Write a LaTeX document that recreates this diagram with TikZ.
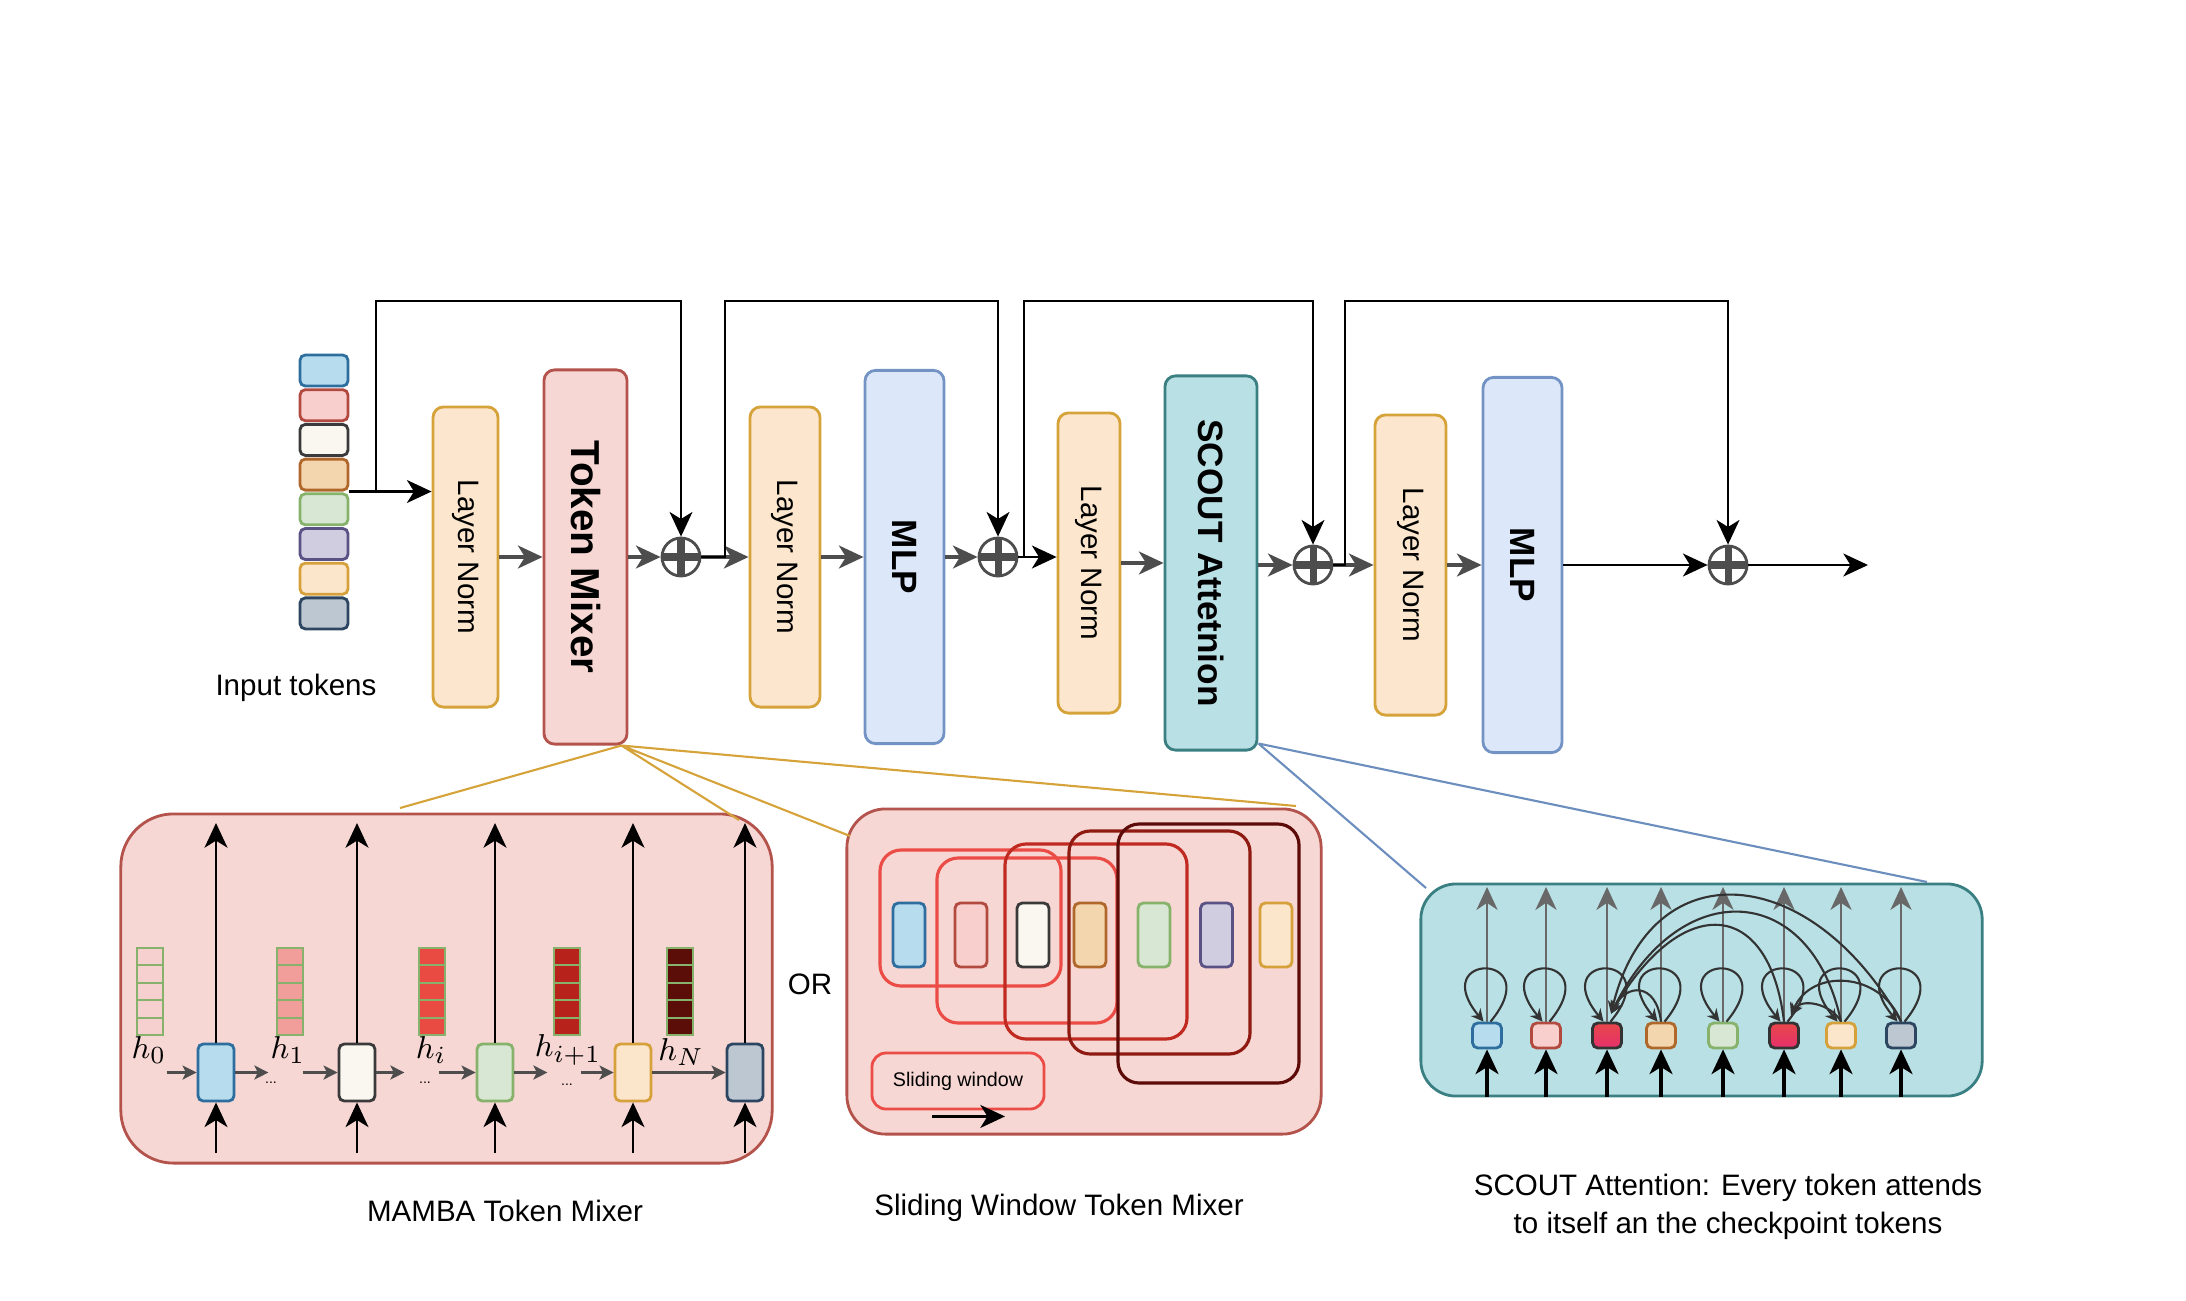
\documentclass[tikz,border=0pt]{standalone}
\usepackage{fontspec}
\setmainfont{Liberation Sans}
\usepackage{graphicx}
\usepackage{tikz}
\usetikzlibrary{arrows.meta}

\definecolor{lnfill}{HTML}{FCE6CD}
\definecolor{lnline}{HTML}{D6A33A}
\definecolor{mixfill}{HTML}{F6D7D4}
\definecolor{mixline}{HTML}{B3534C}
\definecolor{mlpfill}{HTML}{DCE8FA}
\definecolor{mlpline}{HTML}{7393C4}
\definecolor{attfill}{HTML}{B9E0E5}
\definecolor{attline}{HTML}{3A7F82}
\definecolor{flow}{HTML}{4D4D4D}
\definecolor{thin}{HTML}{686868}
\definecolor{arc}{HTML}{333333}
\definecolor{goldln}{HTML}{D6A33A}
\definecolor{blueln}{HTML}{6C8EBF}
\definecolor{fblue}{HTML}{B6DCEE}\definecolor{dblue}{HTML}{2E6E9E}
\definecolor{fpink}{HTML}{F8CFCC}\definecolor{dpink}{HTML}{B34A40}
\definecolor{fivory}{HTML}{F9F7F0}\definecolor{divory}{HTML}{3A3A3A}
\definecolor{forange}{HTML}{F3D6AE}\definecolor{dorange}{HTML}{B0672A}
\definecolor{fgreen}{HTML}{D7E7D3}\definecolor{dgreen}{HTML}{86B26C}
\definecolor{fpurple}{HTML}{D1CDE1}\definecolor{dpurple}{HTML}{5A5184}
\definecolor{fcream}{HTML}{FBE6CC}\definecolor{dcream}{HTML}{D6A03A}
\definecolor{fslate}{HTML}{BCC7D2}\definecolor{dslate}{HTML}{2C4560}
\definecolor{hA}{HTML}{F6CFCF}
\definecolor{hB}{HTML}{F19E9A}
\definecolor{hC}{HTML}{E94A42}
\definecolor{hD}{HTML}{B7221A}
\definecolor{hE}{HTML}{5B0D08}
\definecolor{winA}{HTML}{EC4C46}
\definecolor{winB}{HTML}{C02A20}
\definecolor{winC}{HTML}{8F1A12}
\definecolor{winD}{HTML}{5C0B08}
\definecolor{ckA}{HTML}{E8474A}
\definecolor{ckB}{HTML}{E5306C}

\begin{document}
\begin{tikzpicture}[x=0.01cm,y=-0.01cm,
  every node/.style={font=\fontsize{8.4}{9.4}\selectfont},
  tip/.style={-{Stealth[length=7pt,width=6.5pt,inset=2pt]}},
  blk/.style={draw,rounded corners=3pt,line width=0.8pt,inner sep=0pt},
  lnblk/.style={blk,fill=lnfill,draw=lnline,minimum height=3cm},
  bigtxt/.style={font=\bfseries\fontsize{10}{11}\selectfont},
  tok/.style={draw,rounded corners=1.5pt,line width=0.8pt,inner sep=0pt},
  stok/.style={tok,minimum width=0.29cm,minimum height=0.25cm},
  ckpt/.style={top color=ckA,bottom color=ckB,draw=arc},
  plus/.style={circle,draw=flow,line width=0.8pt,fill=white,minimum size=0.38cm,inner sep=0pt,
    path picture={\draw[flow,line width=2pt] (path picture bounding box.north) -- (path picture bounding box.south)
      (path picture bounding box.west) -- (path picture bounding box.east);}},
  garrow/.style={draw=flow,line width=1.1pt,tip},
  barrow/.style={draw=black,line width=0.8pt,tip},
  skip/.style={draw=black,line width=0.7pt,tip},
  thinarr/.style={draw=thin,line width=0.7pt,-{Stealth[length=6.5pt,width=6pt,inset=2pt]}},
  sarrow/.style={draw=flow,line width=0.7pt,-{Stealth[length=4pt,width=4pt,inset=1pt]}},
  selfloop/.style={draw=arc,line width=0.6pt,-{Stealth[length=3.5pt,width=3.5pt]}},
  panel/.style={line width=0.8pt,inner sep=0pt},
  win/.style={rounded corners=6pt,line width=0.9pt},
  hcell/.style={draw=dgreen,line width=0.6pt},
  hlab/.style={font=\fontsize{9.5}{10}\selectfont},
  dots/.style={font=\fontsize{4}{4}\selectfont}]
\useasboundingbox (0,0) rectangle (2186,1300);

\foreach \col [count=\i] in {blue,pink,ivory,orange,green,purple,cream,slate}
  \node[tok,fill=f\col,draw=d\col,minimum width=0.48cm,minimum height=0.31cm] (in\i) at (324,{370.5+(\i-1)*34.7}) {};
\node (intxt) at (296,688) {Input tokens};

\node[lnblk,minimum width=0.65cm] (ln1) at (465.5,557) {\rotatebox{-90}{Layer Norm}};
\node[blk,fill=mixfill,draw=mixline,minimum width=0.83cm,minimum height=3.74cm,font=\bfseries\fontsize{11.5}{12}\selectfont] (tm) at (585.5,557) {\rotatebox{-90}{Token Mixer}};
\node[plus] (add1) at (681,557) {};
\node[lnblk,minimum width=0.70cm] (ln2) at (785,557) {\rotatebox{-90}{Layer Norm}};
\node[blk,bigtxt,fill=mlpfill,draw=mlpline,minimum width=0.79cm,minimum height=3.73cm] (mlp1) at (904.5,557) {\rotatebox{-90}{MLP}};
\node[plus] (add2) at (998,557) {};
\node[lnblk,minimum width=0.62cm] (ln3) at (1089,563) {\rotatebox{-90}{Layer Norm}};
\node[blk,bigtxt,fill=attfill,draw=attline,minimum width=0.92cm,minimum height=3.74cm] (att) at (1211,563) {\rotatebox{-90}{SCOUT Attetnion}};
\node[plus] (add3) at (1313,565) {};
\node[lnblk,minimum width=0.71cm] (ln4) at (1410.5,565) {\rotatebox{-90}{Layer Norm}};
\node[blk,bigtxt,fill=mlpfill,draw=mlpline,minimum width=0.79cm,minimum height=3.75cm] (mlp2) at (1522.5,565) {\rotatebox{-90}{MLP}};
\node[plus] (add4) at (1728,565) {};
\coordinate (out) at (1868,565);

\coordinate (topy) at (0,301);
\coordinate (s1) at (376,490.1);
\coordinate (j2) at (725,557);
\coordinate (j3) at (1024,557);
\coordinate (j4) at (1345,565);

\draw[barrow] (in4.south east) -- (in4.south east -| ln1.west);
\draw[garrow] (ln1) -- (tm);
\draw[garrow] (tm) -- (add1);
\draw[garrow] (add1) -- (ln2);
\draw[garrow] (ln2) -- (mlp1);
\draw[garrow] (mlp1) -- (add2);
\draw[barrow] (add2) -- (add2 -| ln3.west);
\draw[garrow] (ln3) -- (att);
\draw[garrow] (att.east |- add3) -- (add3);
\draw[garrow] (add3) -- (ln4);
\draw[garrow] (ln4) -- (mlp2);
\draw[barrow] (mlp2) -- (add4);
\draw[barrow] (add4) -- (out);

\draw[skip] (s1) |- (topy -| add1) -- (add1);
\draw[skip] (add1) -- (j2) |- (topy -| add2) -- (add2);
\draw[skip] (add2) -- (j3) |- (topy -| add3) -- (add3);
\draw[skip] (add3) -- (j4) |- (topy -| add4) -- (add4);

\node[panel,fill=mixfill,draw=mixline,minimum width=6.51cm,minimum height=3.49cm,rounded corners=15pt] (mamba) at (446.5,988.5) {};
\node[panel,fill=mixfill,draw=mixline,minimum width=4.74cm,minimum height=3.25cm,rounded corners=11pt] (swin) at (1084,971.5) {};
\node[panel,fill=attfill,draw=attline,minimum width=5.61cm,minimum height=2.12cm,rounded corners=10pt] (scoutp) at (1701.5,990) {};

\coordinate (tmfoot) at ([xshift=-0.07cm]tm.south east);
\coordinate (g1) at (400,808);
\coordinate (g2) at (739,820);
\coordinate (g3) at (850,836);
\coordinate (g4) at (1296,806);
\draw[goldln,line width=0.6pt] (tmfoot) -- (g1) (tmfoot) -- (g2) (tmfoot) -- (g3) (tmfoot) -- (g4);
\coordinate (attfoot) at ([yshift=0.08cm]att.south east);
\coordinate (b1) at (1426,888);
\coordinate (b2) at (1927,882);
\draw[blueln,line width=0.6pt] (attfoot) -- (b1) (attfoot) -- (b2);

\coordinate (mtop) at (0,823);
\coordinate (mbot) at (0,1153);
\foreach \col/\x [count=\i] in {blue/216,ivory/357,green/495,cream/633,slate/745}
  \node[tok,fill=f\col,draw=d\col,minimum width=0.36cm,minimum height=0.57cm] (m\i) at (\x,1072.5) {};
\foreach \i in {1,...,5} {
  \draw[barrow] (m\i) -- (m\i |- mtop);
  \draw[barrow] (m\i |- mbot) -- (m\i);
}
\foreach \x/\col in {137/hA,277/hB,419/hC,554/hD,667/hE}
  \foreach \k in {0,...,4}
    \draw[hcell,fill=\col] (\x,{948+\k*17.4}) rectangle ++(26,17.4);
\node[hlab] (h0) at (149,1050) {$h_0$};
\node[hlab] (h1) at (288,1050) {$h_1$};
\node[hlab] (hi) at (431,1050) {$h_i$};
\node[hlab] (hip) at (568,1050) {$h_{i+1}$};
\node[hlab] (hN) at (681,1052) {$h_N$};
\node[dots] (d1) at (271,1083) {...};
\node[dots] (d2) at (425,1083) {...};
\node[dots] (d3) at (567,1085) {...};
\draw[sarrow] ([xshift=-0.3cm]m1.west) -- (m1.west);
\draw[sarrow] (m1.east) -- ++(33,0);
\draw[sarrow] ([xshift=-0.35cm]m2.west) -- (m2.west);
\draw[sarrow] (m2.east) -- ++(28,0);
\draw[sarrow] ([xshift=-0.37cm]m3.west) -- (m3.west);
\draw[sarrow] (m3.east) -- ++(33,0);
\draw[sarrow] ([xshift=-0.33cm]m4.west) -- (m4.west);
\draw[sarrow] (m4) -- (m5);

\node (or) at (810,984) {OR};

\foreach \col/\x [count=\i] in {blue/909,pink/971,ivory/1033,orange/1090,green/1154,purple/1216.5,cream/1276}
  \node[tok,fill=f\col,draw=d\col,minimum width=0.32cm,minimum height=0.64cm] (w\i) at (\x,935) {};
\draw[win,draw=winA] (880,850) rectangle (1061,986);
\draw[win,draw=winA] (937,858) rectangle (1117,1023);
\draw[win,draw=winB] (1005,844) rectangle (1187,1039);
\draw[win,draw=winC] (1069,831) rectangle (1250,1054);
\draw[win,draw=winD] (1118,824) rectangle (1299,1083);
\node[draw=winA,line width=0.8pt,rounded corners=4pt,minimum width=1.72cm,minimum height=0.56cm,font=\fontsize{5.6}{6}\selectfont] (swlab) at (958,1081) {Sliding window};
\draw[barrow] ([shift={(-26,6)}]swlab.south) -- ([shift={(47,6)}]swlab.south);

\coordinate (stop) at (0,887);
\coordinate (sbot) at (0,1097);
\foreach \i/\x/\col in {1/1487/blue,2/1546/pink,4/1661/orange,5/1723/green,7/1841/cream,8/1901/slate}
  \node[stok,fill=f\col,draw=d\col] (t\i) at (\x,1035.5) {};
\foreach \i/\x in {3/1607,6/1784}
  \node[stok,ckpt] (t\i) at (\x,1035.5) {};
\foreach \i in {1,...,8} {
  \draw[thinarr] (t\i) -- (t\i |- stop);
  \draw[barrow,line width=1.1pt] (t\i |- sbot) -- (t\i);
  \draw[selfloop] ([xshift=1pt]t\i.north) .. controls +(58,-70) and +(-58,-70) .. ([xshift=-1pt]t\i.north);
}
\coordinate (p3) at ([shift={(4,-8)}]t3.north);
\coordinate (p6) at ([shift={(7,-6)}]t6.north);
\draw[selfloop] (t4.north) .. controls +(-5,-40) and +(15,-30) .. (p3);
\draw[selfloop] (t6.north) .. controls +(-15,-125) and +(70,-120) .. (p3);
\draw[selfloop] (t7.north) .. controls +(-30,-140) and +(70,-140) .. (p3);
\draw[selfloop] (t8.north) .. controls +(-90,-160) and +(40,-165) .. (p3);
\draw[selfloop] (t7.north) .. controls +(-10,-18) and +(10,-18) .. (p6);
\draw[selfloop] (t8.north) .. controls +(-20,-50) and +(20,-48) .. (p6);

\node (cap1) at (505,1211) {MAMBA Token Mixer};
\node (cap2) at (1059,1208) {Sliding Window Token Mixer};
\node[align=center,font=\fontsize{8.4}{11}\selectfont] (cap3) at (1728,1207) {SCOUT Attention: Every token attends\\to itself an the checkpoint tokens};
\end{tikzpicture}
\end{document}
